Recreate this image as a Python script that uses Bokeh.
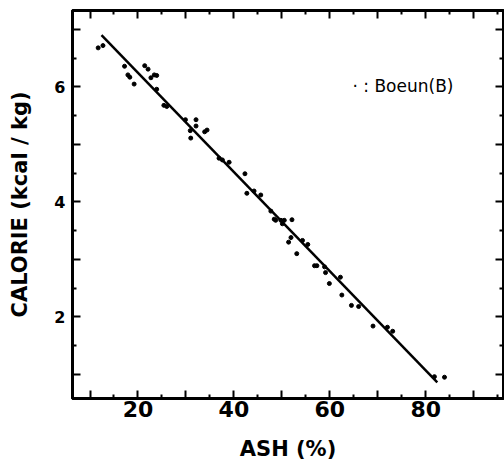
from bokeh.plotting import figure
from bokeh.models import FixedTicker, LinearAxis, Range1d, Label
from bokeh.embed import file_html
from bokeh.resources import INLINE

# ---- data ----
ash = [11.7, 12.7, 17.2, 17.9, 18.3, 19.2, 21.4, 22.1, 22.7, 23.4, 23.9, 23.9,
       25.4, 26.0, 29.9, 32.1, 32.1, 30.9, 31.0, 33.9, 34.4, 36.9, 37.6, 39.0,
       42.3, 42.7, 44.2, 45.6, 47.7, 48.4, 48.7, 49.8, 50.5, 50.1, 52.1, 51.9,
       51.4, 53.1, 54.3, 55.4, 56.8, 57.3, 58.9, 59.1, 59.9, 62.2, 62.5, 64.5,
       66.0, 69.0, 72.0, 73.1, 81.8, 83.9]
calorie = [6.68, 6.72, 6.36, 6.21, 6.17, 6.05, 6.37, 6.31, 6.16, 6.21, 6.20, 5.96,
           5.68, 5.66, 5.43, 5.43, 5.32, 5.24, 5.11, 5.22, 5.25, 4.76, 4.73, 4.69,
           4.49, 4.15, 4.19, 4.12, 3.84, 3.70, 3.68, 3.68, 3.68, 3.62, 3.69, 3.38,
           3.30, 3.10, 3.33, 3.26, 2.89, 2.89, 2.87, 2.77, 2.58, 2.69, 2.38, 2.20,
           2.18, 1.84, 1.82, 1.75, 0.96, 0.95]
fit_x = [12.4, 82.4]
fit_y = [6.90, 0.86]

x_major = [10, 20, 30, 40, 50, 60, 70, 80, 90]
x_minor = [5, 15, 25, 35, 45, 55, 65, 75, 85, 95]
x_labels = {20: "20", 40: "40", 60: "60", 80: "80"}
y_major = [1, 2, 3, 4, 5, 6, 7]
y_minor = [0.5, 1.5, 2.5, 3.5, 4.5, 5.5, 6.5, 7.5]
y_labels = {2: "2", 4: "4", 6: "6"}
legend_text = "· : Boeun(B)"
x_title = "ASH (%)"
y_title = "CALORIE (kcal / kg)"

FONT = "DejaVu Sans"

p = figure(width=504, height=463, output_backend="svg", toolbar_location=None,
           x_range=Range1d(6.35, 96.2), y_range=Range1d(0.58, 7.33),
           min_border_left=72, min_border_right=1, min_border_top=10,
           min_border_bottom=64)
p.xgrid.visible = False
p.ygrid.visible = False
p.outline_line_color = "black"
p.outline_line_width = 3
p.background_fill_color = "white"
p.border_fill_color = "white"

xt = FixedTicker(ticks=x_major, minor_ticks=x_minor)
yt = FixedTicker(ticks=y_major, minor_ticks=y_minor)


def style(ax, ticker, labels, visible_labels, size):
    ax.ticker = ticker
    ax.axis_line_width = 3
    ax.axis_line_color = "black"
    ax.major_tick_in = 8
    ax.major_tick_out = 0
    ax.minor_tick_in = 4
    ax.minor_tick_out = 0
    ax.major_tick_line_width = 2
    ax.minor_tick_line_width = 2
    ax.major_tick_line_color = "black"
    ax.minor_tick_line_color = "black"
    ax.major_label_overrides = {t: labels.get(t, "") for t in ticker.ticks}
    if visible_labels:
        ax.major_label_text_font = FONT
        ax.major_label_text_font_style = "bold"
        ax.major_label_text_font_size = size
        ax.major_label_text_color = "black"
        ax.axis_label_text_font = FONT
        ax.axis_label_text_font_style = "bold"
        ax.axis_label_text_font_size = "21px"
        ax.axis_label_text_color = "black"
    else:
        ax.major_label_text_font_size = "0px"
        ax.major_label_standoff = 0
        ax.axis_label_standoff = 0


xa = p.xaxis[0]
style(xa, xt, x_labels, True, "22px")
xa.major_label_standoff = 2
xa.axis_label = x_title
xa.axis_label_standoff = 17

ya = p.yaxis[0]
style(ya, yt, y_labels, True, "16px")
ya.major_label_standoff = 7
ya.axis_label = y_title
ya.axis_label_standoff = 19

top = LinearAxis()
style(top, FixedTicker(ticks=x_major, minor_ticks=x_minor), {}, False, "0px")
p.add_layout(top, "above")
right = LinearAxis()
style(right, FixedTicker(ticks=y_major, minor_ticks=y_minor), {}, False, "0px")
p.add_layout(right, "right")

p.scatter(ash, calorie, size=4, color="black")
p.line(fit_x, fit_y, line_width=2.5, color="black")

p.add_layout(Label(x=280, y=313, x_units="screen", y_units="screen",
                   text=legend_text, text_font=FONT, text_font_size="17px",
                   text_baseline="middle", text_color="black"))

open("out.html", "w").write(file_html(p, INLINE))
